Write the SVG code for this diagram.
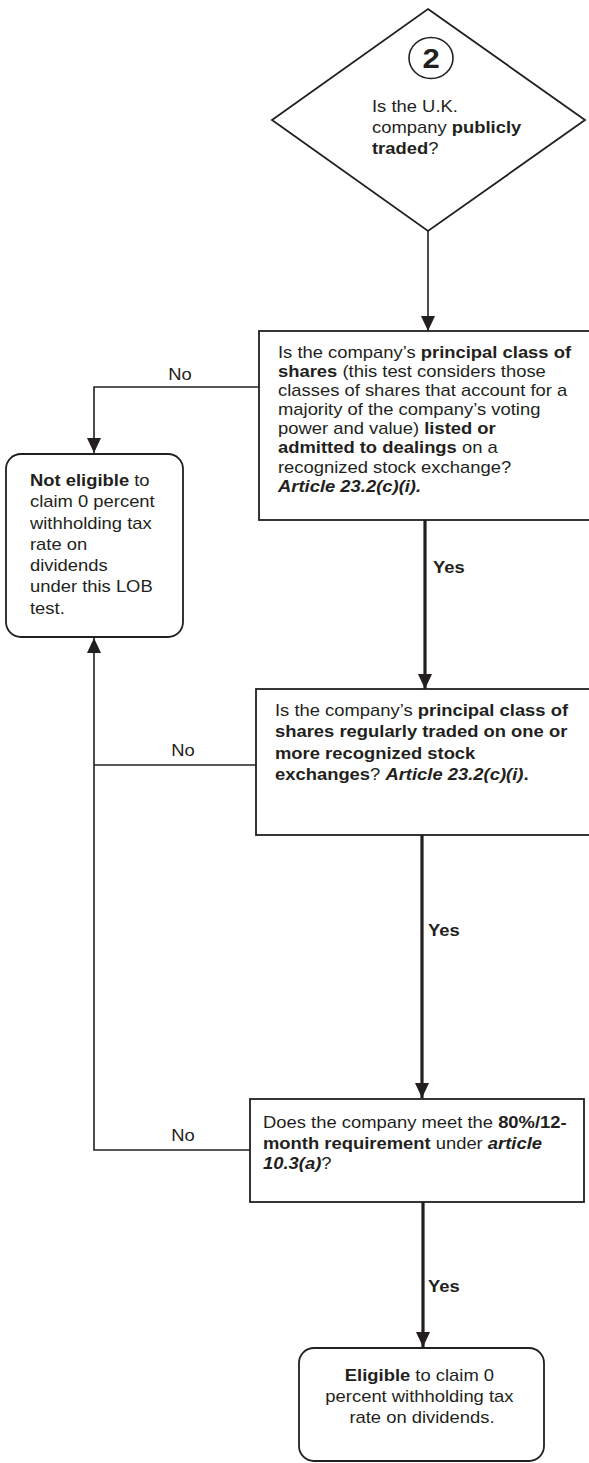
<svg xmlns="http://www.w3.org/2000/svg" width="589" height="1463" viewBox="0 0 589 1463">
<defs>
<style>
.sh{fill:#fff;stroke:#231f20;stroke-width:1.8}
.t{font-family:"Liberation Sans",Arial,sans-serif;font-size:16px;fill:#231f20}
.b{font-weight:bold}
.bi{font-weight:bold;font-style:italic}
.c{fill:none;stroke:#231f20;stroke-width:1.6}
.k{fill:none;stroke:#231f20;stroke-width:3.2}
</style>
<marker id="ah" markerUnits="userSpaceOnUse" markerWidth="16" markerHeight="14" refX="15" refY="7" orient="auto" viewBox="0 0 16 14">
<path d="M0,0 L15,7 L0,14 z" fill="#231f20"/>
</marker>
</defs>
<rect width="589" height="1463" fill="#fff"/>
<g id="connectors">
<line class="c" x1="428" y1="231" x2="428" y2="331" marker-end="url(#ah)"/>
<polyline class="c" points="259,387 94,387 94,453" marker-end="url(#ah)"/>
<line class="k" x1="425" y1="520" x2="425" y2="689" marker-end="url(#ah)"/>
<line class="c" x1="256" y1="765" x2="94" y2="765"/>
<polyline class="c" points="250,1150 94,1150 94,638" marker-end="url(#ah)"/>
<line class="k" x1="422" y1="835" x2="422" y2="1098" marker-end="url(#ah)"/>
<line class="k" x1="423" y1="1202" x2="423" y2="1347" marker-end="url(#ah)"/>
<text class="t" transform="translate(180,380) scale(1.15,1)" text-anchor="middle">No</text>
<text class="t" transform="translate(183,756) scale(1.15,1)" text-anchor="middle">No</text>
<text class="t" transform="translate(183,1141) scale(1.15,1)" text-anchor="middle">No</text>
<text class="t b" transform="translate(433,573) scale(1.15,1)">Yes</text>
<text class="t b" transform="translate(428,936) scale(1.15,1)">Yes</text>
<text class="t b" transform="translate(428,1292) scale(1.15,1)">Yes</text>
</g>
<g id="node-start">
<polygon class="sh" points="428,9 585,120 428,231 272,120"/>
<ellipse cx="431" cy="58" rx="22" ry="20.5" fill="none" stroke="#231f20" stroke-width="1.6"/>
<text class="t b" transform="translate(431,68) scale(1.15,1)" text-anchor="middle" style="font-size:27px">2</text>
<text class="t" transform="translate(372,112) scale(1.15,1)">
<tspan x="0" y="0">Is the U.K.</tspan>
<tspan x="0" y="21">company <tspan class="b">publicly</tspan></tspan>
<tspan x="0" y="42"><tspan class="b">traded</tspan>?</tspan>
</text>
</g>
<g id="node-listed">
<rect class="sh" x="259" y="331" width="340" height="189"/>
<text class="t" transform="translate(278,358) scale(1.15,1)">
<tspan x="0" y="0">Is the company’s <tspan class="b">principal class of</tspan></tspan>
<tspan x="0" y="19.1"><tspan class="b">shares</tspan> (this test considers those</tspan>
<tspan x="0" y="38.2">classes of shares that account for a</tspan>
<tspan x="0" y="57.3">majority of the company’s voting</tspan>
<tspan x="0" y="76.4">power and value) <tspan class="b">listed or</tspan></tspan>
<tspan x="0" y="95.5"><tspan class="b">admitted to dealings</tspan> on a</tspan>
<tspan x="0" y="114.6">recognized stock exchange?</tspan>
<tspan x="0" y="133.7" class="bi">Article 23.2(c)(i).</tspan>
</text>
</g>
<g id="node-not-eligible">
<rect class="sh" x="6" y="454" width="177" height="183" rx="15"/>
<text class="t" transform="translate(30,486) scale(1.15,1)">
<tspan x="0" y="0"><tspan class="b">Not eligible</tspan> to</tspan>
<tspan x="0" y="21.3">claim 0 percent</tspan>
<tspan x="0" y="42.6">withholding tax</tspan>
<tspan x="0" y="63.9">rate on</tspan>
<tspan x="0" y="85.2">dividends</tspan>
<tspan x="0" y="106.5">under this LOB</tspan>
<tspan x="0" y="127.8">test.</tspan>
</text>
</g>
<g id="node-regularly-traded">
<rect class="sh" x="256" y="689" width="340" height="146"/>
<text class="t" transform="translate(275,716) scale(1.15,1)">
<tspan x="0" y="0">Is the company’s <tspan class="b">principal class of</tspan></tspan>
<tspan x="0" y="21.3" class="b">shares regularly traded on one or</tspan>
<tspan x="0" y="42.6" class="b">more recognized stock</tspan>
<tspan x="0" y="63.9"><tspan class="b">exchanges</tspan>? <tspan class="bi">Article 23.2(c)(i)</tspan><tspan class="b">.</tspan></tspan>
</text>
</g>
<g id="node-80-12">
<rect class="sh" x="250" y="1099" width="334" height="103"/>
<text class="t" transform="translate(263,1128) scale(1.15,1)">
<tspan x="0" y="0">Does the company meet the <tspan class="b">80%/12-</tspan></tspan>
<tspan x="0" y="20.7"><tspan class="b">month requirement</tspan> under <tspan class="bi">article</tspan></tspan>
<tspan x="0" y="41.4"><tspan class="bi">10.3(a)</tspan>?</tspan>
</text>
</g>
<g id="node-eligible">
<rect class="sh" x="299" y="1348" width="245" height="113" rx="15"/>
<text class="t" transform="translate(422,1381) scale(1.15,1)" text-anchor="middle">
<tspan x="0" y="0"><tspan class="b">Eligible</tspan> to claim 0</tspan>
<tspan x="0" y="21">percent withholding tax</tspan>
<tspan x="0" y="42">rate on dividends.</tspan>
</text>
</g>
</svg>
